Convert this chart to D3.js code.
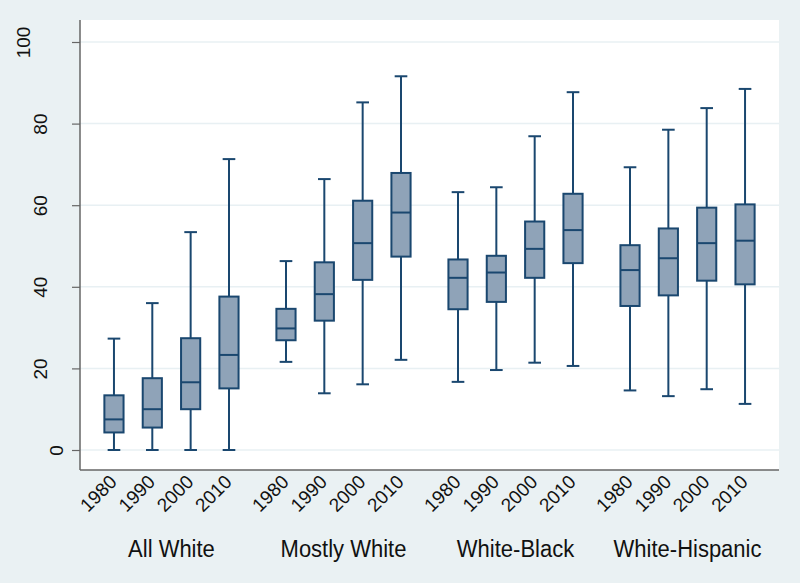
<!DOCTYPE html>
<html>
<head>
<meta charset="utf-8">
<script src="https://cdn.jsdelivr.net/npm/d3@7"></script>
<style>
  html, body { margin: 0; padding: 0; background: #eaf1f3; }
  svg { display: block; font-family: "Liberation Sans", Arial, sans-serif; }
</style>
</head>
<body>
<svg id="chart" width="800" height="583"></svg>
<script>
// ---- data ----
const groups = ["All White", "Mostly White", "White-Black", "White-Hispanic"];
const years = ["1980", "1990", "2000", "2010"];
const yTicks = [0, 20, 40, 60, 80, 100];
// per group, per year: [lower whisker, q1, median, q3, upper whisker]
const allWhite      = [[0, 4.3, 7.5, 13.4, 27.3], [0, 5.5, 10.0, 17.6, 36.0], [0, 10.0, 16.6, 27.4, 53.4], [0, 15.1, 23.3, 37.6, 71.3]];
const mostlyWhite   = [[21.6, 26.9, 29.8, 34.6, 46.3], [13.9, 31.7, 38.2, 46.0, 66.4], [16.1, 41.7, 50.7, 61.1, 85.2], [22.1, 47.4, 58.2, 67.9, 91.6]];
const whiteBlack    = [[16.7, 34.5, 42.2, 46.7, 63.2], [19.6, 36.3, 43.5, 47.6, 64.4], [21.4, 42.2, 49.3, 56.0, 76.9], [20.6, 45.8, 53.9, 62.8, 87.7]];
const whiteHispanic = [[14.6, 35.3, 44.1, 50.2, 69.3], [13.2, 37.9, 47.0, 54.3, 78.5], [14.9, 41.5, 50.7, 59.4, 83.8], [11.3, 40.6, 51.3, 60.2, 88.5]];
const seriesByGroup = [allWhite, mostlyWhite, whiteBlack, whiteHispanic];

const rows = [];
groups.forEach((g, gi) => years.forEach((yr, yi) => {
  const v = seriesByGroup[gi][yi];
  rows.push({group: g, year: yr, lo: v[0], q1: v[1], med: v[2], q3: v[3], hi: v[4]});
}));

// ---- layout ----
const svg = d3.select("#chart");
const W = 800, H = 583;
const plot = {left: 80, right: 779, top: 20, bottom: 470};
const navy = "#1a476f", fill = "#8fa3b8", grid = "#e8f0f3", axisCol = "#666";

svg.append("rect").attr("width", W).attr("height", H).attr("fill", "#eaf1f3");
svg.append("rect").attr("x", plot.left).attr("y", plot.top)
  .attr("width", plot.right - plot.left).attr("height", plot.bottom - plot.top)
  .attr("fill", "#fff");

const y = d3.scaleLinear().domain([0, 100]).range([450, 42]);
const x0 = d3.scaleBand().domain(groups).range([plot.left, plot.right])
  .paddingInner(0.1085).paddingOuter(0.086);
const x1 = d3.scaleBand().domain(years).range([0, x0.bandwidth()]).padding(0);
const boxW = x1.bandwidth() * 0.5;
const capW = x1.bandwidth() * 0.33;
const cx = d => x0(d.group) + x1(d.year) + x1.bandwidth() / 2;

// grid lines
svg.append("g").selectAll("line").data(yTicks).join("line")
  .attr("x1", plot.left).attr("x2", plot.right)
  .attr("y1", d => y(d)).attr("y2", d => y(d))
  .attr("stroke", grid).attr("stroke-width", 1.5);

// y axis
const yAxis = svg.append("g").attr("transform", `translate(${plot.left},0)`)
  .call(d3.axisLeft(y).tickValues(yTicks).tickSize(8).tickPadding(0));
yAxis.select(".domain").remove();
yAxis.selectAll(".tick line").attr("stroke", axisCol).attr("stroke-width", 1.2);
yAxis.selectAll(".tick text")
  .attr("fill", "#111").attr("font-size", 19).attr("dy", null)
  .attr("text-anchor", "middle")
  .attr("x", null).attr("y", null)
  .attr("transform", d => `translate(${-17 - 16.5 * (String(d).length - 1)},0) rotate(-90)`);
svg.append("line").attr("x1", plot.left).attr("x2", plot.left)
  .attr("y1", plot.top).attr("y2", plot.bottom)
  .attr("stroke", axisCol).attr("stroke-width", 1.5);
svg.append("line").attr("x1", plot.left).attr("x2", plot.right)
  .attr("y1", plot.bottom).attr("y2", plot.bottom)
  .attr("stroke", axisCol).attr("stroke-width", 1.5);

// boxes
const b = svg.append("g").selectAll("g").data(rows).join("g");
b.append("line").attr("x1", cx).attr("x2", cx)
  .attr("y1", d => y(d.hi)).attr("y2", d => y(d.q3))
  .attr("stroke", navy).attr("stroke-width", 2);
b.append("line").attr("x1", cx).attr("x2", cx)
  .attr("y1", d => y(d.q1)).attr("y2", d => y(d.lo))
  .attr("stroke", navy).attr("stroke-width", 2);
b.append("line").attr("x1", d => cx(d) - capW / 2).attr("x2", d => cx(d) + capW / 2)
  .attr("y1", d => y(d.hi)).attr("y2", d => y(d.hi))
  .attr("stroke", navy).attr("stroke-width", 2);
b.append("line").attr("x1", d => cx(d) - capW / 2).attr("x2", d => cx(d) + capW / 2)
  .attr("y1", d => y(d.lo)).attr("y2", d => y(d.lo))
  .attr("stroke", navy).attr("stroke-width", 2);
b.append("rect").attr("x", d => cx(d) - boxW / 2).attr("width", boxW)
  .attr("y", d => y(d.q3)).attr("height", d => y(d.q1) - y(d.q3))
  .attr("fill", fill).attr("stroke", navy).attr("stroke-width", 2);
b.append("line").attr("x1", d => cx(d) - boxW / 2).attr("x2", d => cx(d) + boxW / 2)
  .attr("y1", d => y(d.med)).attr("y2", d => y(d.med))
  .attr("stroke", navy).attr("stroke-width", 2);

// x axis: year labels per group
groups.forEach(g => {
  const ax = svg.append("g").attr("transform", `translate(${x0(g)},${plot.bottom})`)
    .call(d3.axisBottom(x1).tickSize(0).tickPadding(0));
  ax.select(".domain").remove();
  ax.selectAll(".tick text")
    .attr("fill", "#111").attr("font-size", 19)
    .attr("text-anchor", "end").attr("dy", null).attr("y", null)
    .attr("transform", "translate(4,13) rotate(-45)");
});

// group labels
svg.append("g").selectAll("text").data(groups).join("text")
  .attr("transform", g => `translate(${x0(g) + x0.bandwidth() / 2},557) scale(1,1.1)`)
  .attr("text-anchor", "middle").attr("font-size", 22).attr("fill", "#111")
  .text(g => g);
</script>
</body>
</html>
